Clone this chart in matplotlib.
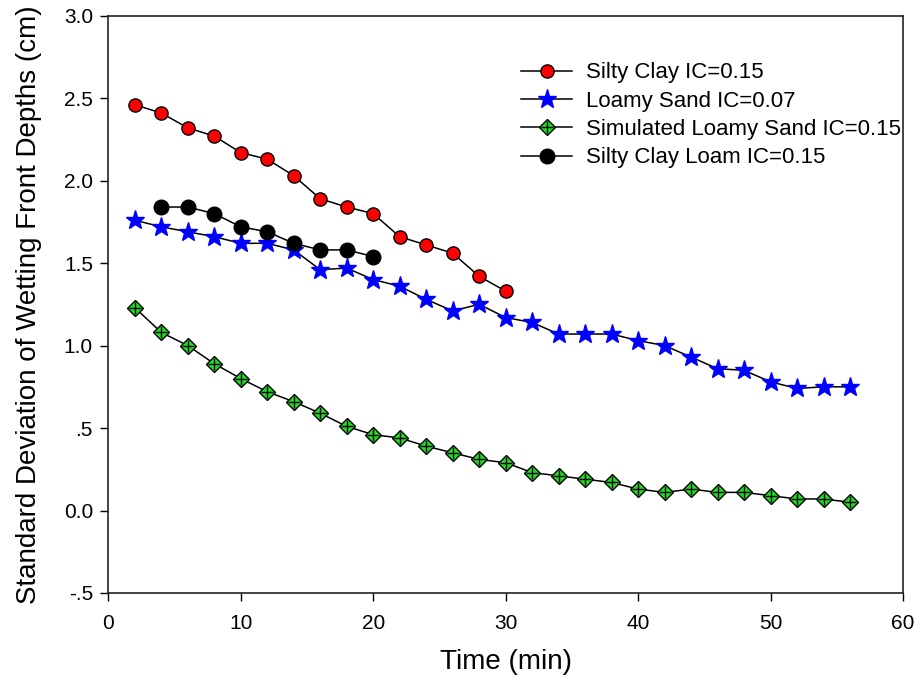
import matplotlib
matplotlib.use("Agg")
import matplotlib.pyplot as plt
from matplotlib.ticker import FuncFormatter, MultipleLocator

plt.rcParams['font.family'] = ['Liberation Sans', 'DejaVu Sans']

# Данные
time_clay = [2, 4, 6, 8, 10, 12, 14, 16, 18, 20, 22, 24, 26, 28, 30]
silty_clay = [2.46, 2.41, 2.32, 2.27, 2.17, 2.13, 2.03, 1.89, 1.84, 1.80,
              1.66, 1.61, 1.56, 1.42, 1.33]

time_sand = [2, 4, 6, 8, 10, 12, 14, 16, 18, 20, 22, 24, 26, 28,
             30, 32, 34, 36, 38, 40, 42, 44, 46, 48, 50, 52, 54, 56]
loamy_sand = [1.76, 1.72, 1.69, 1.66, 1.62, 1.62, 1.58, 1.46, 1.47, 1.40,
              1.36, 1.28, 1.21, 1.25, 1.17, 1.14, 1.07, 1.07, 1.07, 1.03,
              1.00, 0.93, 0.86, 0.85, 0.78, 0.74, 0.75, 0.75]
sim_loamy_sand = [1.23, 1.08, 1.00, 0.89, 0.80, 0.72, 0.66, 0.59, 0.51, 0.46,
                  0.44, 0.39, 0.35, 0.31, 0.29, 0.23, 0.21, 0.19, 0.17, 0.13,
                  0.11, 0.13, 0.11, 0.11, 0.09, 0.07, 0.07, 0.05]

time_loam = [4, 6, 8, 10, 12, 14, 16, 18, 20]
silty_clay_loam = [1.84, 1.84, 1.80, 1.72, 1.69, 1.62, 1.58, 1.58, 1.54]

labels = ["Silty Clay IC=0.15", "Loamy Sand IC=0.07",
          "Simulated Loamy Sand IC=0.15", "Silty Clay Loam IC=0.15"]


def y_fmt(v, pos):
    s = f"{v:.1f}"
    if abs(v) < 1 and abs(v) > 1e-9:
        s = s.replace("0.", ".")
    return s


fig = plt.figure(figsize=(9.16, 6.76), dpi=100)
ax = fig.add_axes([0.1182, 0.1228, 0.8676, 0.854])

lw = 1.1
l1, = ax.plot(time_clay, silty_clay, '-o', color='black', lw=lw,
              mfc='red', mec='black', mew=1.0, ms=9.5)
l2, = ax.plot(time_sand, loamy_sand, '-*', color='black', lw=lw,
              mfc='blue', mec='blue', ms=14)
l3, = ax.plot(time_sand, sim_loamy_sand, '-D', color='black', lw=lw,
              mfc='#22dd22', mec='black', mew=1.0, ms=8.5)
l3b, = ax.plot(time_sand, sim_loamy_sand, '+', color='black', mew=1.0, ms=9)
l4, = ax.plot(time_loam, silty_clay_loam, '-o', color='black', lw=lw,
              mfc='black', mec='black', ms=10.5)

ax.set_xlim(0, 60)
ax.set_ylim(-0.5, 3.0)
ax.xaxis.set_major_locator(MultipleLocator(10))
ax.yaxis.set_major_locator(MultipleLocator(0.5))
ax.yaxis.set_major_formatter(FuncFormatter(y_fmt))

ax.tick_params(direction='out', length=6, width=1.0, labelsize=15,
               top=False, right=False, pad=5)
ax.tick_params(axis='x', pad=9)
for sp in ax.spines.values():
    sp.set_linewidth(1.2)
    sp.set_color('#222222')

ax.set_xlabel("Time (min)", fontsize=20, labelpad=12)
ax.set_ylabel("Standard Deviation of Wetting Front Depths (cm)", fontsize=20,
              labelpad=16)

fig.legend([l1, l2, (l3, l3b), l4], labels,
           loc='upper left', bbox_to_anchor=(0.569, 0.9076),
           bbox_transform=fig.transFigure, frameon=False, fontsize=16,
           handlelength=2.3, handletextpad=0.6, labelspacing=0.33,
           borderpad=0, borderaxespad=0)

plt.savefig("out.png", dpi=100)
